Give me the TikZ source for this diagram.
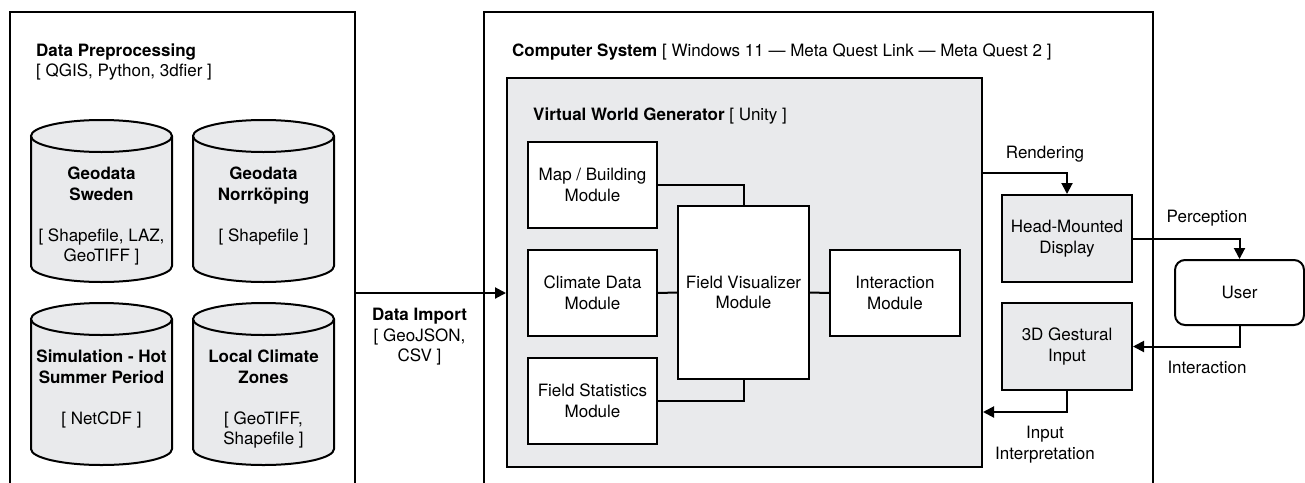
\documentclass[tikz,border=0pt]{standalone}
\usepackage{fontspec}
\setmainfont{TeX Gyre Heros}
\usetikzlibrary{arrows.meta,calc}
\definecolor{panel}{RGB}{233,234,236}

% database cylinder: #1 centre x, #2 top y, #3 bottom y
\newcommand\datastore[3]{%
  \fill[panel] (#1-70.5,#2+16) rectangle (#1+70.5,#3-16);
  \fill[panel] (#1,#3-16) ellipse [x radius=70.5pt, y radius=16pt];
  \draw[frame] (#1-70.5,#2+16) -- (#1-70.5,#3-16)
    arc[start angle=180, end angle=360, x radius=70.5pt, y radius=16pt]
    -- (#1+70.5,#2+16);
  \draw[frame, fill=panel] (#1,#2+16) ellipse [x radius=70.5pt, y radius=16pt];
}

\begin{document}
\begin{tikzpicture}[x=1pt, y=-1pt,
  font=\fontsize{17}{20.5}\selectfont,
  every node/.style={inner sep=0pt},
  frame/.style={line width=2pt},
  modbox/.style={draw, line width=2pt, fill=white, align=center,
    minimum width=129pt, minimum height=86pt},
  devbox/.style={modbox, fill=panel},
  link/.style={line width=2pt},
  flow/.style={link, -{Triangle[length=11pt, width=11pt]}},
  tag/.style={align=center}]

\fill[white] (0,0) rectangle (1305,482);
\useasboundingbox (0,0) rectangle (1305,482);

% ---------- data preprocessing ----------
\node[minimum width=345pt, minimum height=472pt, anchor=north west] (prep) at (10,12) {};
\draw[frame] (prep.south west) -- (prep.north west) -- (prep.north east) -- (prep.south east);
\node[anchor=base west] (preptitle) at (36,56) {\textbf{Data Preprocessing}};
\node[anchor=base west] (preptools) at (36,76) {[ QGIS, Python, 3dfier ]};

\datastore{101.5}{120}{282}
\datastore{263.5}{120}{282}
\datastore{101.5}{303}{465}
\datastore{263.5}{303}{465}

\node[tag, anchor=north] (geoswe) at (101.5,167)
  {\textbf{Geodata}\\\textbf{Sweden}\\[20.5pt]{[} Shapefile, LAZ,\\GeoTIFF ]};
\node[tag, anchor=north] (geonrk) at (263.5,167)
  {\textbf{Geodata}\\\textbf{Norrköping}\\[20.5pt]{[} Shapefile ]};
\node[tag, anchor=north] (sim) at (101.5,350)
  {\textbf{Simulation - Hot}\\\textbf{Summer Period}\\[20.5pt]{[} NetCDF ]};
\node[tag, anchor=north] (lcz) at (263.5,350)
  {\textbf{Local Climate}\\\textbf{Zones}\\[20.5pt]{[} GeoTIFF,\\Shapefile ]};

% ---------- computer system ----------
\node[minimum width=669pt, minimum height=472pt, anchor=north west] (cs) at (484,12) {};
\draw[frame] (cs.south west) -- (cs.north west) -- (cs.north east) -- (cs.south east);
\node[anchor=base west] (cstitle) at (512,56)
  {\textbf{Computer System} [ Windows 11 — Meta Quest Link — Meta Quest 2 ]};

\node[draw, frame, fill=panel, minimum width=475pt, minimum height=389pt,
  anchor=north west] (vwg) at (506,77) {};
\node[anchor=base west] (vwgtitle) at (533,120)
  {\textbf{Virtual World Generator} [ Unity ]};

\node[modbox] (map) at (592.5,185) {Map / Building\\Module};
\node[modbox] (climate) at (592.5,293) {Climate Data\\Module};
\node[modbox] (stats) at (592.5,401) {Field Statistics\\Module};
\node[modbox, minimum width=131pt, minimum height=173pt] (fv) at (743.5,292.5)
  {Field Visualizer\\Module};
\node[modbox, minimum width=130pt] (inter) at (895,293) {Interaction\\Module};

\node[devbox, minimum width=130pt, minimum height=87pt] (hmd) at (1067,238.5)
  {Head-Mounted\\Display};
\node[devbox, minimum width=130pt, minimum height=87pt] (gest) at (1067,346.5)
  {3D Gestural\\Input};
\node[draw, line width=2pt, rounded corners=10pt, fill=white,
  minimum width=129pt, minimum height=65pt] (user) at (1239.5,292.5) {User};

% ---------- connectors ----------
\draw[link] (map.east) -| (fv.north);
\draw[link] (climate.east) -- (fv.west);
\draw[link] (stats.east) -| (fv.south);
\draw[link] (fv.east) -- (inter.west);

\draw[flow] (prep.east |- climate.west) -- (vwg.west |- climate.west);
\node[tag, anchor=north] (importlbl) at (419.5,308)
  {\textbf{Data Import}\\{[} GeoJSON,\\CSV ]};

\coordinate (rstart) at (vwg.east |- 0,173);
\coordinate (iiend) at (vwg.east |- 0,412);
\draw[flow] (rstart) -| (hmd.north);
\draw[flow] (hmd.east) -| (user.north);
\draw[flow] (user.south) |- (gest.east);
\draw[flow] (gest.south) |- (iiend);

\node[anchor=base] (rendlbl) at (1045,158) {Rendering};
\node[anchor=base] (perclbl) at (1207,222) {Perception};
\node[anchor=base] (interlbl) at (1207,373) {Interaction};
\node[tag, anchor=north] (iilbl) at (1045,426) {Input\\Interpretation};

\end{tikzpicture}
\end{document}
